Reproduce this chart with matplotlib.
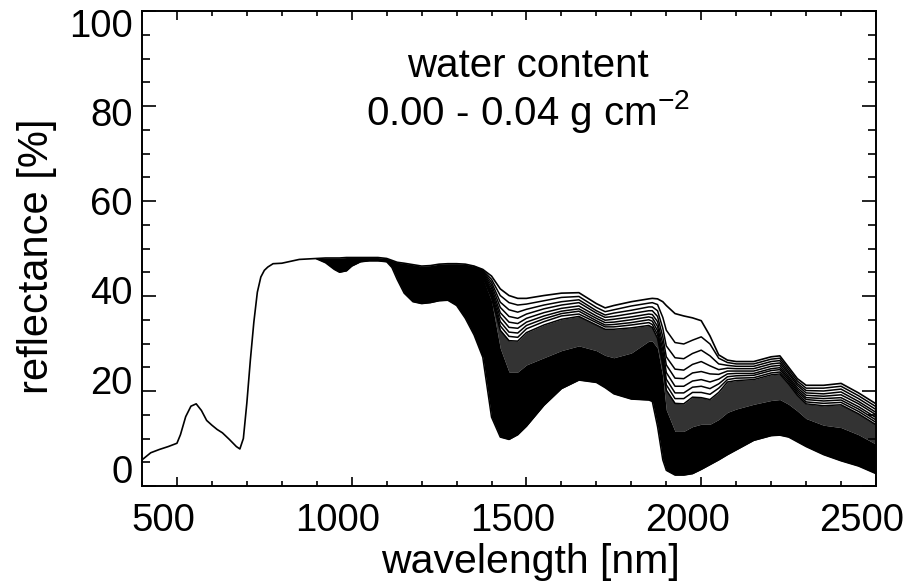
import numpy as np
import matplotlib
matplotlib.use("Agg")
import matplotlib.pyplot as plt
from matplotlib.ticker import MultipleLocator
from matplotlib.transforms import ScaledTranslation

plt.rcParams["font.family"] = ["Liberation Sans", "DejaVu Sans"]
plt.rcParams["mathtext.fontset"] = "custom"
plt.rcParams["mathtext.rm"] = "Liberation Sans"
plt.rcParams["mathtext.default"] = "regular"

### wavelengths [nm] for the whole spectrum
wl = np.array([400, 425, 450, 475, 500, 510, 525, 540, 555, 570, 585, 600, 615, 630, 650,
               670, 680, 690, 700, 710, 720, 730, 740, 750, 760, 775, 800, 825, 850, 875,
               900, 925, 950, 965, 985, 1000, 1025, 1050, 1075, 1100, 1115, 1130, 1150, 1175,
               1200, 1225, 1250, 1275, 1300, 1325,
               1350, 1375, 1400, 1425, 1450, 1475, 1500, 1550, 1600, 1650, 1700, 1725, 1750,
               1800, 1850, 1860, 1875, 1890, 1900, 1925, 1950, 1975, 2000, 2025, 2050, 2075,
               2100, 2150, 2200, 2225, 2250, 2275, 2300, 2350, 2400, 2450, 2500])

### reflectance [%] of the dry leaf (0.00 g cm-2), top curve
refl_dry = np.array([5.5, 7.0, 7.7, 8.3, 9.0, 10.8, 14.6, 16.8, 17.3, 15.9, 13.8, 12.8, 11.9, 11.2, 9.8,
                     8.3, 7.8, 10.0, 17.5, 26.5, 34.5, 40.8, 44.0, 45.4, 46.1, 46.8, 46.9, 47.3, 47.7, 47.8,
                     47.9, 48.0, 48.0, 48.0, 48.1, 48.1, 48.1, 48.1, 48.1, 47.9, 47.5, 47.1, 46.9, 46.6,
                     46.3, 46.4, 46.7, 46.8, 46.8, 46.7,
                     46.3, 45.6, 44.2, 41.5, 40.1, 39.5, 39.5, 40.1, 40.6, 40.7, 38.4, 37.5, 38.0,
                     38.8, 39.4, 39.5, 39.4, 38.8, 38.0, 36.3, 35.8, 35.4, 34.8, 31.6, 27.6, 26.5,
                     26.2, 26.2, 27.2, 27.4, 25.0, 22.6, 21.2, 21.2, 21.6, 19.6, 17.3])

### reflectance [%] of the wettest leaf (0.04 g cm-2), from 900 nm on
refl_wet = np.array([47.8, 47.0, 45.6, 45.0, 45.3, 46.3, 47.2, 47.4, 47.4, 47.2, 46.0, 43.5, 40.6, 38.8,
                     38.4, 38.6, 39.0, 39.1, 38.0, 35.3,
                     31.8, 27.1, 14.5, 10.3, 9.8, 10.8, 12.6, 17.0, 20.5, 22.3, 21.8, 20.7, 19.4,
                     18.3, 18.1, 17.8, 12.5, 5.5, 3.3, 2.3, 2.3, 2.6, 3.5, 4.5, 5.5, 6.6,
                     7.6, 9.6, 10.6, 10.7, 10.3, 9.3, 8.3, 6.6, 5.3, 4.2, 2.6])

### next curves below the dry one (1350 nm - 2500 nm), still readable one by one
curve_1 = [46.2, 45.4, 43.5, 40.1, 38.6, 38.1, 38.3, 39.0, 39.7, 39.9, 37.6, 36.7, 37.1, 37.9, 38.5, 38.6, 38.2, 35.5, 32.8,
           30.2, 29.9, 30.7, 31.4, 29.9, 26.9, 26.0, 25.7, 25.7, 26.7, 26.9, 24.5, 22.1, 20.6, 20.6, 21.0, 19.0, 16.7]
curve_2 = [46.0, 45.2, 42.9, 38.7, 37.1, 36.6, 37.2, 38.1, 38.8, 39.2, 36.9, 36.0, 36.4, 37.0, 37.7, 37.7, 36.9, 33.2, 29.5,
           27.0, 26.8, 27.9, 28.6, 27.4, 25.7, 25.4, 25.2, 25.2, 26.2, 26.4, 24.0, 21.6, 20.1, 20.0, 20.4, 18.4, 16.1]
curve_3 = [45.9, 45.0, 42.3, 37.6, 35.7, 35.3, 36.2, 37.3, 38.1, 38.6, 36.4, 35.5, 35.7, 36.3, 36.9, 36.9, 35.7, 31.4, 27.2,
           24.6, 24.4, 25.6, 26.2, 25.3, 24.5, 24.8, 24.7, 24.7, 25.7, 25.9, 23.6, 21.2, 19.6, 19.4, 19.8, 17.8, 15.5]
curve_4 = [45.7, 44.8, 41.7, 36.5, 34.5, 34.2, 35.3, 36.5, 37.4, 37.9, 35.8, 34.9, 35.1, 35.6, 36.2, 36.1, 34.6, 29.9, 25.5,
           22.7, 22.6, 23.8, 24.1, 23.6, 23.5, 24.2, 24.2, 24.2, 25.2, 25.4, 23.1, 20.7, 19.1, 18.9, 19.2, 17.3, 15.0]
curve_5 = [45.6, 44.6, 41.1, 35.6, 33.4, 33.2, 34.5, 35.8, 36.8, 37.3, 35.3, 34.4, 34.5, 35.0, 35.6, 35.4, 33.6, 28.6, 23.9,
           21.0, 21.0, 22.1, 22.4, 21.9, 22.5, 23.6, 23.7, 23.7, 24.7, 24.9, 22.7, 20.3, 18.6, 18.4, 18.6, 16.7, 14.4]
curve_6 = [45.4, 44.4, 40.6, 34.6, 32.4, 32.2, 33.8, 35.2, 36.3, 36.8, 34.8, 33.9, 34.0, 34.4, 35.0, 34.7, 32.7, 27.4, 22.5,
           19.6, 19.6, 20.8, 21.0, 20.5, 21.5, 23.0, 23.2, 23.3, 24.3, 24.5, 22.3, 19.9, 18.2, 17.9, 18.1, 16.2, 13.9]
curve_7 = [45.3, 44.2, 40.1, 33.7, 31.5, 31.3, 33.1, 34.6, 35.8, 36.2, 34.4, 33.5, 33.5, 33.9, 34.4, 34.0, 31.9, 26.4, 21.3,
           18.4, 18.4, 19.7, 19.7, 19.3, 20.6, 22.4, 22.7, 22.8, 23.8, 24.0, 21.9, 19.5, 17.7, 17.4, 17.6, 15.7, 13.4]
curve_8 = [45.1, 44.0, 39.6, 32.8, 30.6, 30.5, 32.3, 33.9, 35.1, 35.7, 33.9, 33.0, 33.0, 33.3, 33.8, 33.4, 31.1, 25.5, 20.2,
           17.4, 17.3, 18.7, 18.6, 18.2, 19.7, 21.9, 22.2, 22.4, 23.4, 23.6, 21.5, 19.1, 17.3, 16.9, 17.1, 15.2, 12.9]

### upper edge of the part where the remaining curves merge into solid black
dense_top = [44.5, 43.8, 39.0, 29.0, 24.0, 24.0, 25.5, 27.0, 28.5, 29.5, 28.5, 27.5, 27.0, 28.0, 30.5, 30.5, 29.0, 23.0, 16.0,
             11.5, 11.5, 12.5, 13.0, 13.0, 14.0, 15.5, 16.2, 17.2, 18.0, 18.2, 17.2, 15.8, 14.2, 12.8, 12.3, 10.8, 8.8]

y_ticks = [0, 20, 40, 60, 80, 100]
x_ticks = [500, 1000, 1500, 2000, 2500]
title_lines = ["water content", "0.00 - 0.04 g cm$^{-2}$"]

band = wl >= 900
nir = wl >= 1350
wl_band = wl[band]
wl_nir = wl[nir]
wet_nir = refl_wet[wl_band >= 1350]
orta = [curve_1, curve_2, curve_3, curve_4, curve_5, curve_6, curve_7, curve_8]

fig = plt.figure(figsize=(9.15, 5.85), dpi=100)
ax = fig.add_axes([142 / 915, 1 - 486 / 585, 734 / 915, 475 / 585])

# curves that are too close together -> filled areas
ax.fill_between(wl_nir, curve_8, dense_top, color="0.2", lw=0, zorder=1)
ax.fill_between(wl_nir, dense_top, wet_nir, color="k", lw=0, zorder=2)
ax.fill_between(wl_band, refl_dry[band], refl_wet, where=wl_band <= 1375,
                color="k", lw=0, zorder=2)

for c in orta:
    ax.plot(wl_nir, c, color="k", lw=1.1, zorder=3)
ax.plot(wl_band, refl_wet, color="k", lw=1.1, zorder=3)
ax.plot(wl, refl_dry, color="k", lw=1.2, zorder=4)

ax.set_xlim(400, 2500)
ax.set_ylim(0, 100)
ax.set_xticks(x_ticks)
ax.set_yticks(y_ticks)
ax.xaxis.set_minor_locator(MultipleLocator(100))
ax.yaxis.set_minor_locator(MultipleLocator(5))
ax.set_xticklabels([])
ax.set_yticklabels([])

ax.tick_params(which="both", direction="in", top=True, right=True, width=1.2, color="k")
ax.tick_params(axis="x", which="major", length=6.7)
ax.tick_params(axis="x", which="minor", length=3.6)
ax.tick_params(axis="y", which="major", length=10)
ax.tick_params(axis="y", which="minor", length=5.5)
for s in ax.spines.values():
    s.set_linewidth(1.4)

# tick labels by hand, slightly shifted like in the original
for v in x_ticks:
    tr = ax.get_xaxis_transform() + ScaledTranslation(-0.14, -0.17, fig.dpi_scale_trans)
    ax.text(v, 0, str(v), transform=tr, ha="center", va="top", fontsize=27.5)
for v in y_ticks:
    d = -13 + 0.287 * v
    tr = ax.get_yaxis_transform() + ScaledTranslation(-0.09, -d / 100, fig.dpi_scale_trans)
    ax.text(0, v, str(v), transform=tr, ha="right", va="center", fontsize=27.5)

fig.text(528 / 915, 1 - 77 / 585, title_lines[0], ha="center", va="baseline", fontsize=29)
fig.text(528 / 915, 1 - 125 / 585, title_lines[1], ha="center", va="baseline", fontsize=29)
fig.text(530 / 915, 1 - 573 / 585, "wavelength [nm]", ha="center", va="baseline", fontsize=29.5)
fig.text(37 / 915, 1 - 256 / 585, "reflectance [%]", ha="center", va="center",
         rotation=90, fontsize=30)

fig.savefig("out.png", dpi=100)
